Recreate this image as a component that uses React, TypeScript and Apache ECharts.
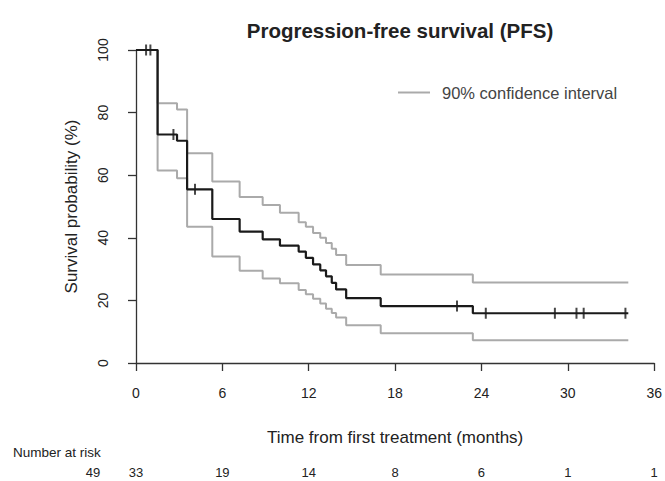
import React, { useEffect, useRef } from "react";
import * as echarts from "echarts";

const titleText = "Progression-free survival (PFS)";
const xTitle = "Time from first treatment (months)";
const yTitle = "Survival probability (%)";
const legendLabel = "90% confidence interval";
const riskTitle = "Number at risk";

const kmTimes = [0, 1.5, 2.85, 3.55, 5.3, 7.2, 8.8, 10.0, 11.3, 11.8, 12.3, 12.8, 13.2, 13.6, 13.9, 14.6, 17.0, 23.4, 34.2];
const kmSurv = [100, 73, 71, 55.5, 46, 42, 39.5, 37.5, 35.6, 33.6, 31.5, 29.6, 27.7, 25.6, 23.5, 20.7, 18.2, 15.9, 15.9];
const ciUpper = [100, 83, 81, 67, 58, 53, 50.5, 48, 45, 43.5, 41.5, 40, 38.3, 36.5, 34.5, 31.3, 28.3, 25.7, 25.7];
const ciLower = [100, 61.5, 59, 43.5, 34, 29.5, 27, 25.5, 23.3, 22, 20.5, 19, 17.3, 16, 14.5, 12.1, 9.5, 7.3, 7.3];
const censorTimes = [0.7, 1.0, 2.6, 4.1, 22.3, 24.3, 29.1, 30.6, 31.1, 34.0];

const riskTimes = [0, 6, 12, 18, 24, 30, 36];
const riskCounts = ["33", "19", "14", "8", "6", "1", "1"];
const riskTotal = "49";

const FONT = "'Liberation Sans', Arial, sans-serif";

function survAt(t: number): number {
  let v = kmSurv[0];
  for (let i = 0; i < kmTimes.length; i++) {
    if (kmTimes[i] <= t) v = kmSurv[i];
  }
  return v;
}

export default function App() {
  const ref = useRef<HTMLDivElement>(null);
  useEffect(() => {
    document.body.style.margin = "0";
    const chart = echarts.init(ref.current!, null, { renderer: "svg" });
    const zip = (vals: number[]) => kmTimes.map((t, i) => [t, vals[i]]);
    const option: any = {
      animation: false,
      backgroundColor: "#ffffff",
      textStyle: { fontFamily: FONT },
      title: {
        text: titleText,
        left: 395,
        textAlign: "center",
        top: 15,
        textStyle: { fontFamily: FONT, fontSize: 20.5, fontWeight: "bold", color: "#222" },
      },
      legend: {
        data: [{ name: legendLabel, icon: "rect" }],
        left: 393,
        top: 79,
        itemWidth: 32,
        itemHeight: 2,
        textStyle: { fontFamily: FONT, fontSize: 16.5, color: "#444", padding: [0, 0, 0, 7] },
      },
      grid: { left: 136, right: 9, top: 50, bottom: 118 },
      xAxis: {
        type: "value",
        min: 0,
        max: 36,
        interval: 6,
        name: xTitle,
        nameLocation: "middle",
        nameGap: 66,
        nameTextStyle: { fontFamily: FONT, fontSize: 17, color: "#222" },
        axisLine: { show: true, onZero: false, lineStyle: { color: "#333", width: 1.3 } },
        axisTick: { show: true, length: 8, lineStyle: { color: "#333", width: 1.3 } },
        axisLabel: { fontFamily: FONT, fontSize: 14, color: "#222", margin: 23 },
        splitLine: { show: false },
      },
      yAxis: {
        type: "value",
        min: 0,
        max: 100,
        interval: 20,
        name: yTitle,
        nameLocation: "middle",
        nameGap: 56,
        nameTextStyle: { fontFamily: FONT, fontSize: 17, color: "#222" },
        axisLine: { show: true, onZero: false, lineStyle: { color: "#333", width: 1.3 } },
        axisTick: { show: true, length: 8, lineStyle: { color: "#333", width: 1.3 } },
        axisLabel: { fontFamily: FONT, fontSize: 14, color: "#222", margin: 26, rotate: 90 },
        splitLine: { show: false },
      },
      series: [
        {
          name: legendLabel,
          type: "line",
          step: "end",
          symbol: "none",
          data: zip(ciUpper),
          lineStyle: { color: "#aaaaaa", width: 2 },
          itemStyle: { color: "#aaaaaa" },
          z: 2,
        },
        {
          name: legendLabel,
          type: "line",
          step: "end",
          symbol: "none",
          data: zip(ciLower),
          lineStyle: { color: "#aaaaaa", width: 2 },
          itemStyle: { color: "#aaaaaa" },
          z: 2,
        },
        {
          name: "KM",
          type: "line",
          step: "end",
          symbol: "none",
          data: zip(kmSurv),
          lineStyle: { color: "#1a1a1a", width: 2.2 },
          itemStyle: { color: "#1a1a1a" },
          z: 3,
        },
        {
          name: "Censored",
          type: "scatter",
          symbol: "rect",
          symbolSize: [2, 11],
          data: censorTimes.map((t) => [t, survAt(t)]),
          itemStyle: { color: "#1a1a1a" },
          z: 4,
        },
      ],
    };
    chart.setOption(option);

    const yRisk = 472;
    const graphics: any[] = [
      {
        type: "text",
        left: 13,
        top: 445,
        style: { text: riskTitle, fontFamily: FONT, fontSize: 13.5, fill: "#222" },
      },
      {
        type: "text",
        x: 93,
        y: yRisk,
        style: { text: riskTotal, fontFamily: FONT, fontSize: 13, fill: "#222", align: "center", verticalAlign: "middle" },
      },
    ];
    riskTimes.forEach((t, i) => {
      const px = chart.convertToPixel({ xAxisIndex: 0 }, t) as number;
      graphics.push({
        type: "text",
        x: px,
        y: yRisk,
        style: { text: riskCounts[i], fontFamily: FONT, fontSize: 13, fill: "#222", align: "center", verticalAlign: "middle" },
      });
    });
    chart.setOption({ graphic: graphics });

    return () => chart.dispose();
  }, []);
  return <div ref={ref} style={{ position: "absolute", left: 0, top: 0, width: 665, height: 481 }} />;
}
